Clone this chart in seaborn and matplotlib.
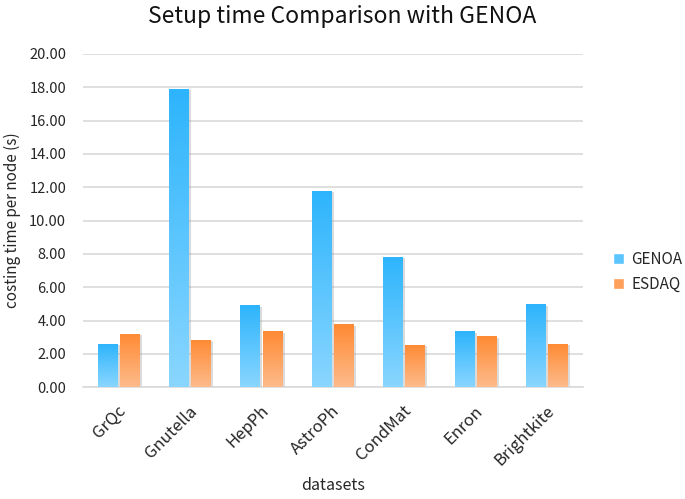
import numpy as np
import pandas as pd
import matplotlib
matplotlib.use('Agg')
import matplotlib.pyplot as plt
import seaborn as sns
from matplotlib.colors import LinearSegmentedColormap
from matplotlib.transforms import ScaledTranslation
import matplotlib.patheffects as pe

# values
datasets = ['GrQc', 'Gnutella', 'HepPh', 'AstroPh', 'CondMat', 'Enron', 'Brightkite']
genoa = [2.61, 17.90, 4.91, 11.79, 7.82, 3.35, 4.97]
esdaq = [3.21, 2.85, 3.35, 3.77, 2.55, 3.05, 2.61]
methods = ['GENOA', 'ESDAQ']

df = pd.DataFrame({
    'datasets': datasets * 2,
    'method': ['GENOA'] * len(datasets) + ['ESDAQ'] * len(datasets),
    'time': genoa + esdaq,
})

sns.set_style('white')
plt.rcParams['font.family'] = ['Noto Sans CJK SC', 'DejaVu Sans']

fig = plt.figure(figsize=(6.85, 4.99), dpi=100)
ax = fig.add_axes([0.121, 0.224, 0.730, 0.668])

blue_top, blue_bot = '#2db4fc', '#8ad6ff'
orange_top, orange_bot = '#ff8a33', '#fdbb8c'
txt = '#262626'

sns.barplot(data=df, x='datasets', y='time', hue='method', hue_order=methods,
            palette=[blue_top, orange_top], width=0.62, gap=0.1, ax=ax,
            legend=False, zorder=3)

# gradient fill for every bar
cmaps = [LinearSegmentedColormap.from_list('b', [blue_bot, blue_top]),
         LinearSegmentedColormap.from_list('o', [orange_bot, orange_top])]
grad = np.linspace(0, 1, 256).reshape(-1, 1)
n = len(datasets)
for i, patch in enumerate(ax.patches[:2 * n]):
    cmap = cmaps[i // n]
    x0, y0 = patch.get_x(), patch.get_y()
    w, h = patch.get_width(), patch.get_height()
    patch.set_facecolor('none')
    patch.set_edgecolor('none')
    shadow = plt.Rectangle((x0, y0), w, h, facecolor='none', edgecolor='none', zorder=2,
                           path_effects=[pe.SimplePatchShadow(offset=(1.5, -1), shadow_rgbFace='#999999', alpha=0.35)])
    ax.add_patch(shadow)
    im = ax.imshow(grad, extent=[x0, x0 + w, y0, y0 + h], origin='lower',
                   aspect='auto', cmap=cmap, zorder=3)
    im.set_clip_path(patch)

ax.set_xlim(-0.5, n - 0.5)
ax.set_ylim(0, 20)
ax.set_yticks(np.arange(0, 21, 2))
ax.set_yticklabels([f'{v:.2f}' for v in np.arange(0, 21, 2)], fontsize=10.5, color=txt)
ax.yaxis.grid(True, color='#d9d9d9', linewidth=1.2, zorder=0)
ax.set_axisbelow(True)
for s in ['top', 'right', 'left']:
    ax.spines[s].set_visible(False)
ax.spines['bottom'].set_color('#d9d9d9')
ax.spines['bottom'].set_linewidth(1.2)
ax.tick_params(axis='both', length=0)
ax.tick_params(axis='y', pad=12)
ax.tick_params(axis='x', pad=11)
shift = ScaledTranslation(-1 / 72, 0, fig.dpi_scale_trans)
for lab in ax.get_xticklabels():
    lab.set_rotation(45)
    lab.set_ha('right')
    lab.set_rotation_mode('anchor')
    lab.set_fontsize(12)
    lab.set_color(txt)
    lab.set_transform(lab.get_transform() + shift)

ax.set_xlabel('datasets', fontsize=11.5, color=txt)
ax.xaxis.set_label_coords(0.5, -0.27)
ax.set_ylabel('costing time per node (s)', fontsize=11, color=txt, labelpad=6)
fig.suptitle('Setup time Comparison with GENOA', fontsize=16.5, x=0.5, y=0.99, color='#111111')

handles = [plt.Rectangle((0, 0), 1, 1, facecolor=c) for c in ['#5cc5fd', '#fe9f5c']]
fig.legend(handles, methods, loc='center left', bbox_to_anchor=(0.875, 0.455),
           frameon=False, fontsize=11, handlelength=0.7, handleheight=0.7,
           handletextpad=0.5, labelspacing=0.5, labelcolor=txt)

fig.savefig('out.png', dpi=100)
